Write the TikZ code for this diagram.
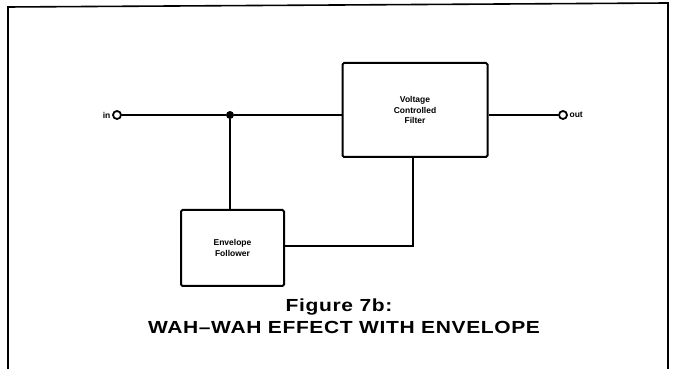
\documentclass[tikz,border=0pt]{standalone}
\usepackage{fontspec}
\setmainfont{Liberation Sans}
\begin{document}
\begin{tikzpicture}[x=1pt,y=1pt,
  blockbox/.style={draw,line width=2pt,rounded corners=1.5pt,inner sep=0pt,align=center,font=\fontsize{8.5}{10.5}\selectfont\bfseries},
  wire/.style={line width=1.3pt},
  term/.style={circle,draw,line width=1.8pt,fill=white,minimum size=8pt,inner sep=0pt},
  junc/.style={circle,fill=black,minimum size=8pt,inner sep=0pt},
  lbl/.style={font=\fontsize{8.5}{10}\selectfont\bfseries,inner sep=1.5pt},
  captext/.style={font=\fontsize{17.5}{20}\selectfont\bfseries\addfontfeatures{LetterSpace=3}}]
\useasboundingbox (0,0) rectangle (675,369);
% frame
\draw[line width=1.6pt] (8,0) -- (8,362) -- (668,366) -- (668,0);
% blocks
\node[blockbox,minimum width=145pt,minimum height=94pt] (vcf) at (415,259) {Voltage\\Controlled\\Filter};
\node[blockbox,minimum width=103pt,minimum height=76pt] (env) at (232.5,121) {Envelope\\Follower};
% terminals
\node[term] (in) at (117,254) {};
\node[term] (out) at (563,254) {};
\node[lbl,anchor=east] (inl) at (in.west) {in};
\node[lbl,anchor=west] (outl) at (out.east) {out};
\node[junc] (j) at (230,254) {};
\coordinate (c1) at (413,123);
% wires
\draw[wire] (in) -- (j) -- (vcf.west |- j);
\draw[wire] (vcf.east |- out) -- (out);
\draw[wire] (j) -- (j |- env.north);
\draw[wire] (env.east |- c1) -- (c1) -- (c1 |- vcf.south);
% caption
\node[captext] (cap1) at (339,62) {\scalebox{1.2}[1]{Figure 7b:}};
\node[captext] (cap2) at (344,42) {\scalebox{1.2}[1]{WAH--WAH EFFECT WITH ENVELOPE}};
\end{tikzpicture}
\end{document}
